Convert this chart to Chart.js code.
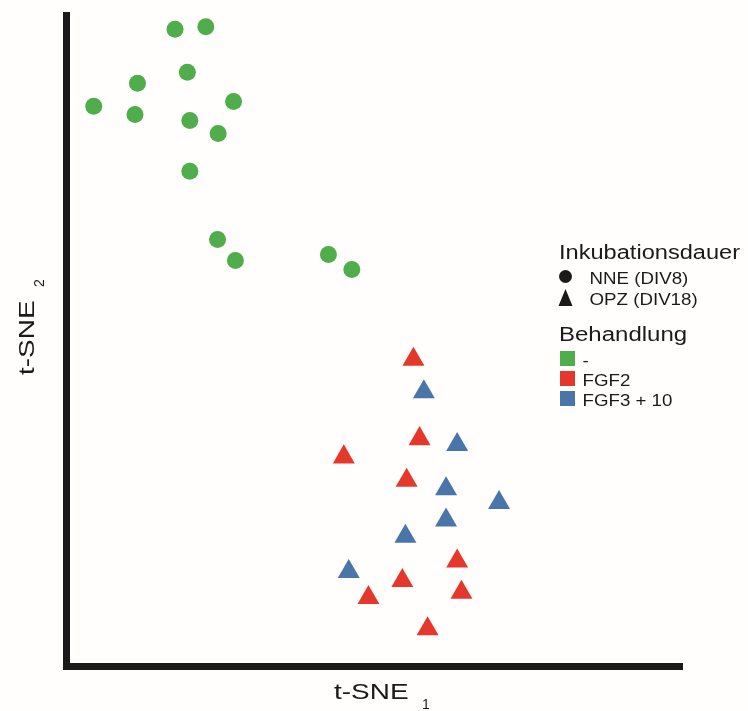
<!DOCTYPE html>
<html>
<head>
<meta charset="utf-8">
<script src="https://cdn.jsdelivr.net/npm/chart.js@4"></script>
<style>
  html, body { margin: 0; padding: 0; background: #fffefc; }
  #wrap { width: 748px; height: 711px; }
</style>
</head>
<body>
<div id="wrap"><canvas id="myChart" width="748" height="711"></canvas></div>
<script>
// t-SNE coordinates (arbitrary units 0..100)
var nneCtrlX = [17.7, 22.7, 19.7, 11.6, 4.5, 11.2, 20.1, 27.2, 24.7, 20.1, 24.6, 27.5, 42.6, 46.4];
var nneCtrlY = [97.8, 98.2, 91.2, 89.5, 86.0, 84.7, 83.8, 86.7, 81.8, 76.0, 65.5, 62.3, 63.2, 60.9];

var opzFgf2X = [56.4, 57.4, 45.1, 55.3, 63.5, 54.6, 49.1, 64.2, 58.7];
var opzFgf2Y = [47.1, 34.9, 32.1, 28.5, 16.1, 13.1, 10.5, 11.3, 5.7];

var opzFgf310X = [58.1, 63.5, 61.7, 70.3, 61.7, 55.1, 45.9];
var opzFgf310Y = [42.1, 34.0, 27.2, 25.1, 22.4, 19.9, 14.5];

var xTitle = 't-SNE';
var xSub = '1';
var yTitle = 't-SNE';
var ySub = '2';

var legendHead1 = 'Inkubationsdauer';
var legendShapes = ['NNE (DIV8)', 'OPZ (DIV18)'];
var legendHead2 = 'Behandlung';
var legendGroups = ['-', 'FGF2', 'FGF3 + 10'];

var green = '#4fad4b';
var red = '#e5382c';
var blue = '#4a75a8';
var groupColors = [green, red, blue];

function toPoints(xs, ys) {
    var pts = [];
    for (var i = 0; i < xs.length; i++) {
        pts.push({ x: xs[i], y: ys[i] });
    }
    return pts;
}

var FONT = '"Liberation Sans", Arial, sans-serif';

// draws text stretched horizontally like in the figure
function wideText(ctx, txt, x, y, size, sx) {
    ctx.save();
    ctx.translate(x, y);
    ctx.scale(sx, 1);
    ctx.font = size + 'px ' + FONT;
    ctx.textBaseline = 'alphabetic';
    ctx.textAlign = 'left';
    ctx.fillText(txt, 0, 0);
    ctx.restore();
}

var textPlugin = {
    id: 'textPlugin',
    beforeDraw: function(chart) {
        var c = chart.ctx;
        c.save();
        c.fillStyle = '#fffefc';
        c.fillRect(0, 0, chart.width, chart.height);
        c.restore();
    },
    afterDraw: function(chart) {
        var c = chart.ctx;
        c.save();
        c.fillStyle = '#1a1a1a';

        // x axis title
        wideText(c, xTitle, 334, 699, 22, 1.27);
        wideText(c, xSub, 422, 709, 14, 1.0);

        // y axis title (rotated)
        c.save();
        c.translate(34, 375);
        c.rotate(-Math.PI / 2);
        wideText(c, yTitle, 0, 0, 22, 1.27);
        wideText(c, ySub, 88, 10, 14, 1.0);
        c.restore();

        // legend: shapes
        wideText(c, legendHead1, 559, 259, 20, 1.18);
        c.beginPath();
        c.arc(565.5, 276.5, 6.5, 0, Math.PI * 2);
        c.fill();
        c.beginPath();
        c.moveTo(565.5, 289);
        c.lineTo(572.5, 306);
        c.lineTo(558.5, 306);
        c.closePath();
        c.fill();
        wideText(c, legendShapes[0], 589.5, 284, 16, 1.17);
        wideText(c, legendShapes[1], 589.5, 305, 16, 1.17);

        // legend: treatment
        wideText(c, legendHead2, 559, 341, 20, 1.2);
        for (var i = 0; i < legendGroups.length; i++) {
            var top = 351 + i * 20;
            c.fillStyle = groupColors[i];
            c.fillRect(560, top, 15, 15);
            c.fillStyle = '#1a1a1a';
            wideText(c, legendGroups[i], 582.5, top + 14.5, 17, 1.1);
        }
        c.restore();
    }
};

var ctx = document.getElementById('myChart').getContext('2d');
var chart = new Chart(ctx, {
    type: 'scatter',
    data: {
        datasets: [{
            label: 'NNE (DIV8) -',
            data: toPoints(nneCtrlX, nneCtrlY),
            pointStyle: 'circle',
            pointRadius: 8.5,
            pointHoverRadius: 8.5,
            pointBorderWidth: 0,
            backgroundColor: green,
            borderColor: green
        }, {
            label: 'OPZ (DIV18) FGF2',
            data: toPoints(opzFgf2X, opzFgf2Y),
            pointStyle: 'triangle',
            pointRadius: 12.7,
            pointHoverRadius: 12.7,
            pointBorderWidth: 0,
            backgroundColor: red,
            borderColor: red
        }, {
            label: 'OPZ (DIV18) FGF3 + 10',
            data: toPoints(opzFgf310X, opzFgf310Y),
            pointStyle: 'triangle',
            pointRadius: 12.7,
            pointHoverRadius: 12.7,
            pointBorderWidth: 0,
            backgroundColor: blue,
            borderColor: blue
        }]
    },
    options: {
        responsive: false,
        animation: false,
        devicePixelRatio: 1,
        layout: { padding: { top: 15, right: 66, left: 0, bottom: 0 } },
        plugins: {
            legend: { display: false },
            tooltip: { enabled: false }
        },
        scales: {
            x: {
                type: 'linear',
                position: 'bottom',
                min: 0,
                max: 100,
                ticks: { display: false },
                grid: { display: false },
                border: { display: true, width: 7, color: '#1a1a1a' },
                afterFit: function(scale) { scale.height = 45; }
            },
            y: {
                type: 'linear',
                position: 'left',
                min: 0,
                max: 100,
                ticks: { display: false },
                grid: { display: false },
                border: { display: true, width: 7, color: '#1a1a1a' },
                afterFit: function(scale) { scale.width = 66; }
            }
        }
    },
    plugins: [textPlugin]
});
</script>
</body>
</html>
